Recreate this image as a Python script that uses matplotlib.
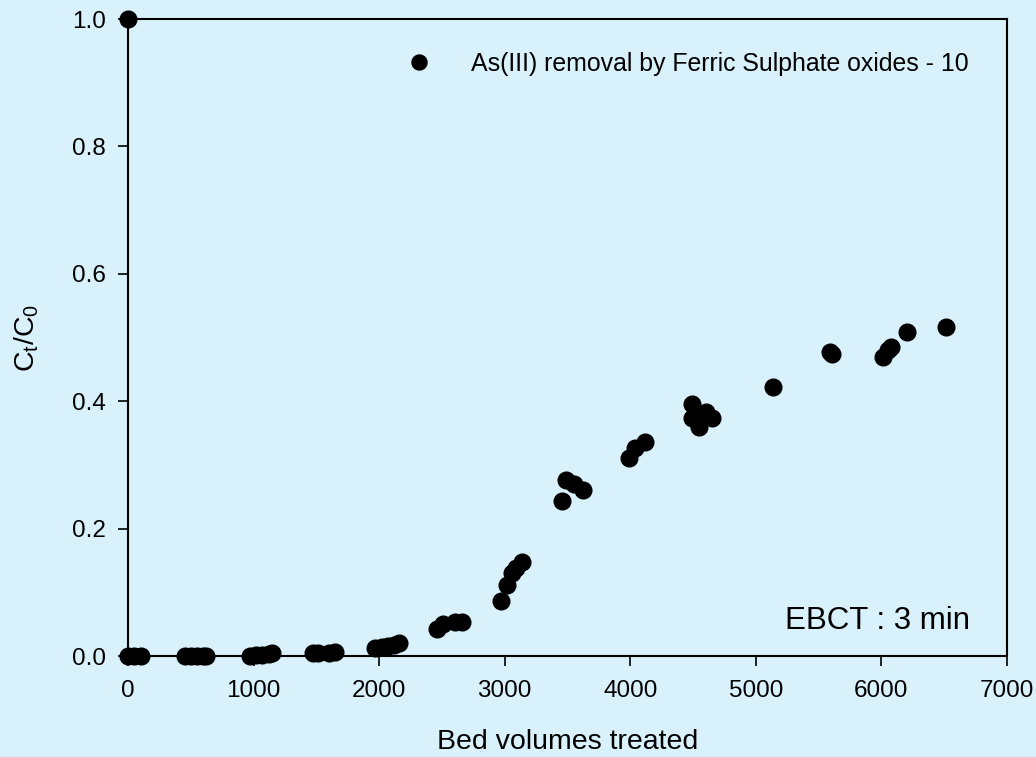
import matplotlib
matplotlib.use("Agg")
import matplotlib.pyplot as plt

plt.rcParams['font.family'] = ['Liberation Sans', 'DejaVu Sans']

bed_volumes = [0, 0, 50, 100,
               450, 500, 550, 600, 620,
               970, 1020, 1070, 1120, 1150,
               1470, 1510, 1600, 1650,
               1970, 2020, 2070, 2120, 2160,
               2460, 2510, 2600, 2660,
               2970, 3020, 3060, 3090, 3140,
               3460, 3490, 3550, 3620,
               3990, 4040, 4120,
               4490, 4490, 4550, 4600, 4650,
               5135, 5590, 5610, 6010, 6050, 6080, 6200, 6515]
ct_c0 = [1.0, 0.0, 0.0, 0.0,
         0.0, 0.0, 0.0, 0.0, 0.0,
         0.0, 0.001, 0.002, 0.003, 0.004,
         0.004, 0.005, 0.005, 0.006,
         0.012, 0.014, 0.016, 0.018, 0.021,
         0.043, 0.051, 0.053, 0.054,
         0.086, 0.111, 0.13, 0.138, 0.147,
         0.244, 0.276, 0.27, 0.26,
         0.311, 0.326, 0.336,
         0.396, 0.373, 0.36, 0.383, 0.373,
         0.422, 0.478, 0.474, 0.47, 0.48, 0.485, 0.508, 0.516]

legend_label = "As(III) removal by Ferric Sulphate oxides - 10"
x_ticks = [0, 1000, 2000, 3000, 4000, 5000, 6000, 7000]
y_ticks = [0.0, 0.2, 0.4, 0.6, 0.8, 1.0]

bg = '#D9F1FB'
fig = plt.figure(figsize=(10.36, 7.57), dpi=100, facecolor=bg)
ax = fig.add_axes([0.1236, 0.1334, 0.8484, 0.8415], facecolor=bg)

ax.plot(bed_volumes, ct_c0, linestyle='none', marker='o', markersize=12,
        color='black', label=legend_label, clip_on=False, zorder=5)

ax.set_xlim(0, 7000)
ax.set_ylim(0, 1.0)
ax.set_xticks(x_ticks)
ax.set_yticks(y_ticks)
ax.set_xticklabels([str(t) for t in x_ticks])
ax.set_yticklabels([f"{t:.1f}" for t in y_ticks])
ax.tick_params(direction='out', length=7, width=1.2, labelsize=17.5, colors='black')
ax.tick_params(axis='x', pad=10)
ax.tick_params(axis='y', pad=9)
for s in ax.spines.values():
    s.set_linewidth(1.5)

ax.set_xlabel("Bed volumes treated", fontsize=20.5, labelpad=20)
ax.set_ylabel(r"$\mathregular{C_t/C_0}$", fontsize=20.5, labelpad=22)

leg = ax.legend(loc='upper right', bbox_to_anchor=(0.982, 0.984), frameon=False,
                fontsize=17.9, handletextpad=1.1, markerscale=0.9)

ax.text(0.958, 0.055, "EBCT : 3 min", transform=ax.transAxes, ha='right',
        va='center', fontsize=22.5)

fig.savefig("out.png", dpi=100, facecolor=bg)
